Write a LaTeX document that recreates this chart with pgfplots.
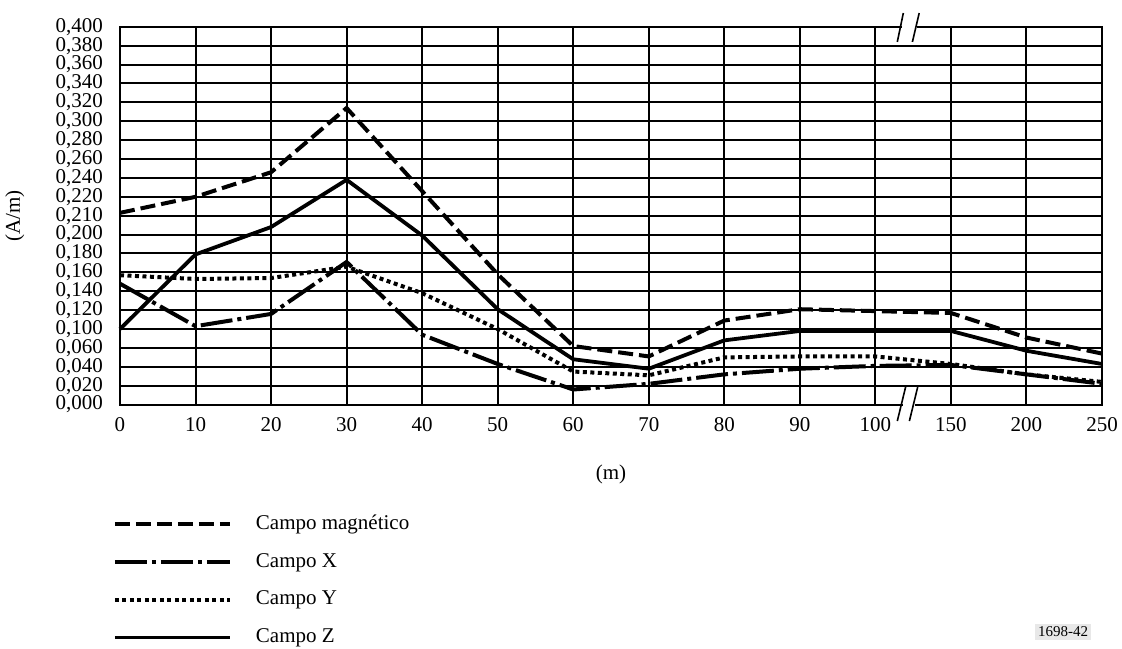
\documentclass[border=0pt]{standalone}
\usepackage{fontspec}
\setmainfont{Liberation Serif}
\usepackage{pgfplots}
\pgfplotsset{compat=1.18}

\begin{document}
\begin{tikzpicture}
\useasboundingbox (-60pt,-121.7pt) rectangle (501pt,202.3pt);
\begin{axis}[
    at={(0,0)}, anchor=south west,
    scale only axis, width=491pt, height=188.9pt,
    xmin=0, xmax=13, ymin=0, ymax=0.4,
    xtick={0,...,13},
    xticklabels={0,10,20,30,40,50,60,70,80,90,100,150,200,250},
    ytick={0,0.02,0.04,0.06,0.08,0.1,0.12,0.14,0.16,0.18,0.2,0.22,0.24,0.26,0.28,0.3,0.32,0.34,0.36,0.38,0.4},
    yticklabels={{0,000},{0,020},{0,040},{0,060},{0,100},{0,120},{0,140},{0,160},{0,180},{0,200},{0,210},{0,220},{0,240},{0,260},{0,280},{0,300},{0,320},{0,340},{0,360},{0,380},{0,400}},
    major tick length=0pt,
    grid=major,
    major grid style={black, line width=1pt},
    axis line style={black, line width=1.1pt},
    ticklabel style={font=\fontsize{10.5}{12}\selectfont},
    xticklabel style={yshift=-3pt},
    yticklabel style={xshift=-5pt},
    xlabel={(m)}, ylabel={(A/m)},
    label style={font=\fontsize{10.5}{12}\selectfont},
    xlabel style={at={(axis description cs:0.5,-0.185)}, anchor=center},
    ylabel style={at={(axis description cs:-0.107,0.5)}, anchor=center},
    clip=false,
    legend cell align=left,
    legend image code/.code={\draw[#1] (0pt,0pt) -- (57.5pt,0pt); \path (69.5pt,0pt);},
    legend style={at={(axis description cs:-0.0076,-0.292)}, anchor=north west,
        draw=none, fill=none, inner sep=0pt, row sep=9.85pt,
        font=\fontsize{10.5}{12}\selectfont,
        nodes={inner sep=0pt, text height=7pt, text depth=2pt}},
]

% Campo magnetico
\addplot[black, line width=2pt, dash pattern=on 7.5pt off 3pt] coordinates {
    (0,0.203) (1,0.220) (2,0.246) (3,0.314) (4,0.226) (5,0.138) (6,0.062)
    (7,0.051) (8,0.089) (9,0.101) (10,0.099) (11,0.097) (12,0.071) (13,0.054)
};
\addlegendentry{Campo magnético}

% Campo X
\addplot[black, line width=2pt, dash pattern=on 16pt off 2.5pt on 2pt off 2.5pt] coordinates {
    (0,0.128) (1,0.083) (2,0.096) (3,0.151) (4,0.074) (5,0.043) (6,0.016)
    (7,0.022) (8,0.032) (9,0.038) (10,0.041) (11,0.042) (12,0.032) (13,0.022)
};
\addlegendentry{Campo X}

% Campo Y
\addplot[black, line width=2pt, dash pattern=on 2pt off 1.75pt] coordinates {
    (0,0.137) (1,0.133) (2,0.134) (3,0.146) (4,0.118) (5,0.080) (6,0.035)
    (7,0.031) (8,0.050) (9,0.051) (10,0.051) (11,0.043) (12,0.032) (13,0.024)
};
\addlegendentry{Campo Y}

% Campo Z
\addplot[black, line width=1.9pt] coordinates {
    (0,0.080) (1,0.159) (2,0.188) (3,0.238) (4,0.179) (5,0.101) (6,0.048)
    (7,0.038) (8,0.068) (9,0.078) (10,0.078) (11,0.078) (12,0.057) (13,0.043)
};
\addlegendentry{Campo Z}

% axis break marks
\fill[white] (axis cs:10.35,0.396) -- (axis cs:10.55,0.396) -- (axis cs:10.55,0.404) -- (axis cs:10.35,0.404) -- cycle;
\fill[white] (axis cs:10.36,-0.004) -- (axis cs:10.52,-0.004) -- (axis cs:10.52,0.004) -- (axis cs:10.36,0.004) -- cycle;
\draw[black, line width=0.8pt] (axis cs:10.37,0.4146) -- (axis cs:10.29,0.384);
\draw[black, line width=0.8pt] (axis cs:10.58,0.4146) -- (axis cs:10.49,0.384);
\draw[black, line width=0.8pt] (axis cs:10.40,0.0186) -- (axis cs:10.29,-0.0174);
\draw[black, line width=0.8pt] (axis cs:10.56,0.0186) -- (axis cs:10.45,-0.0174);
\end{axis}
\node[fill=gray!18, inner sep=1.5pt, font=\fontsize{7.5}{9}\selectfont] at (471.5pt,-113.7pt) {1698-42};
\end{tikzpicture}
\end{document}
